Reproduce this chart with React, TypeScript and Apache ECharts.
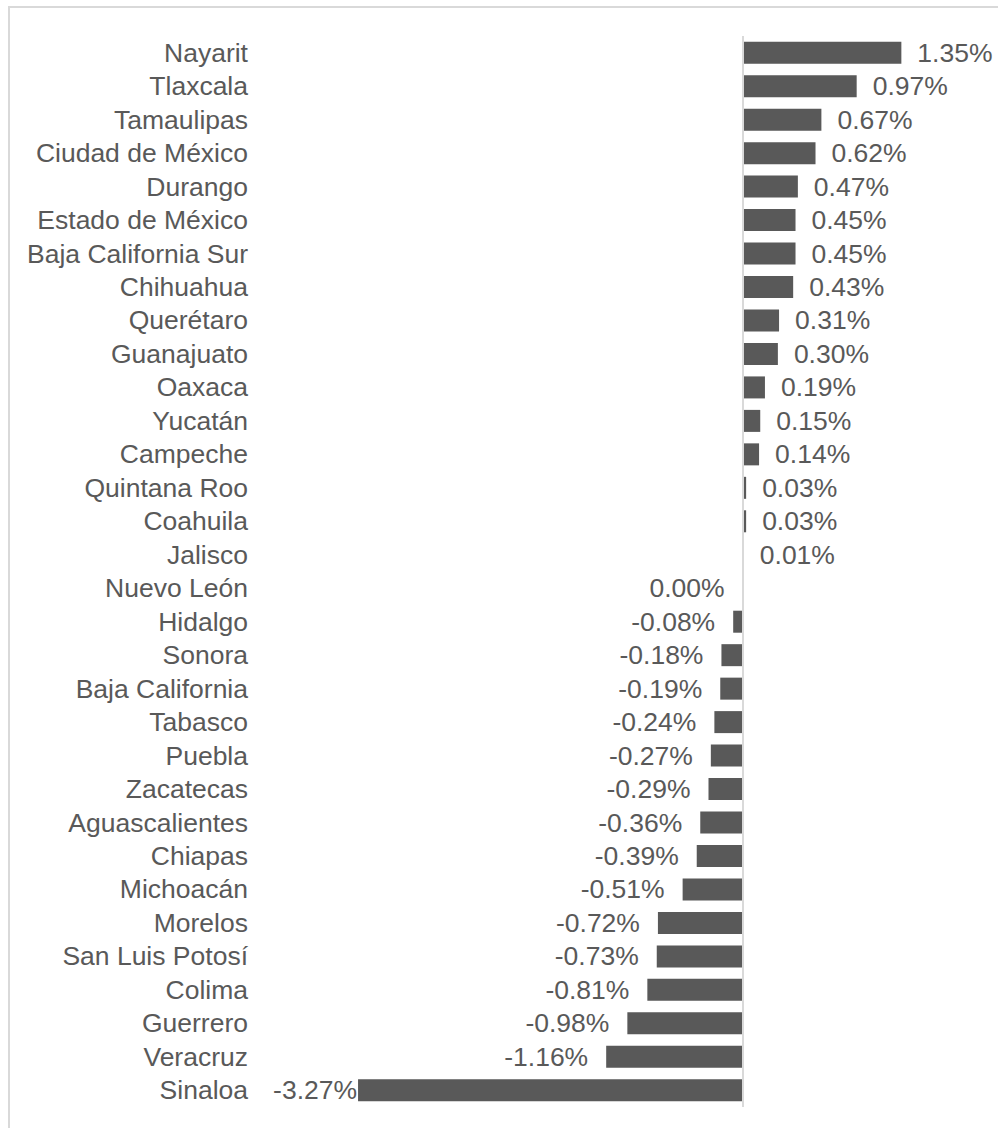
import React, { useEffect, useRef } from "react";
import * as echarts from "echarts";

const states: string[] = [
  "Nayarit", "Tlaxcala", "Tamaulipas", "Ciudad de México", "Durango",
  "Estado de México", "Baja California Sur", "Chihuahua", "Querétaro", "Guanajuato",
  "Oaxaca", "Yucatán", "Campeche", "Quintana Roo", "Coahuila", "Jalisco",
  "Nuevo León", "Hidalgo", "Sonora", "Baja California", "Tabasco", "Puebla",
  "Zacatecas", "Aguascalientes", "Chiapas", "Michoacán", "Morelos",
  "San Luis Potosí", "Colima", "Guerrero", "Veracruz", "Sinaloa",
];

const values: number[] = [
  1.35, 0.97, 0.67, 0.62, 0.47,
  0.45, 0.45, 0.43, 0.31, 0.30,
  0.19, 0.15, 0.14, 0.03, 0.03, 0.01,
  0.00, -0.08, -0.18, -0.19, -0.24, -0.27,
  -0.29, -0.36, -0.39, -0.51, -0.72,
  -0.73, -0.81, -0.98, -1.16, -3.27,
];

const FONT = "'Liberation Sans', Arial, sans-serif";
const TEXT = "#595959";

export default function App() {
  const ref = useRef<HTMLDivElement>(null);

  useEffect(() => {
    if (!ref.current) return;
    const chart = echarts.init(ref.current, undefined, { renderer: "svg" });
    const minV = Math.min(...values);
    const data = values.map((v) => ({
      value: v,
      label: {
        position: v <= 0 ? "left" : "right",
        distance: v === minV ? 1 : v <= 0 ? 18 : 16,
      },
    }));
    chart.setOption({
      animation: false,
      grid: { left: 321, top: 28, width: 588, height: 1071, containLabel: false },
      xAxis: {
        type: "value",
        min: -3.5,
        max: 1.5,
        show: false,
        splitLine: { show: false },
      },
      yAxis: {
        type: "category",
        inverse: true,
        data: states,
        axisLine: { show: false },
        axisTick: { show: false },
        splitLine: { show: false },
        axisLabel: {
          interval: 0,
          margin: 83,
          color: TEXT,
          fontSize: 26.5,
          fontFamily: FONT,
        },
      },
      series: [
        {
          type: "bar",
          data,
          barWidth: 22,
          itemStyle: { color: "#595959" },
          label: {
            show: true,
            color: TEXT,
            fontSize: 26.5,
            fontFamily: FONT,
            formatter: (p: any) => Number(p.value).toFixed(2) + "%",
          },
          markLine: {
            silent: true,
            symbol: ["none", "none"],
            label: { show: false },
            lineStyle: { color: "#d9d9d9", width: 2, type: "solid" },
            data: [{ xAxis: 0 }],
          },
        },
      ],
    });
    return () => chart.dispose();
  }, []);

  return (
    <div
      style={{
        position: "absolute",
        left: 8,
        top: 6,
        width: 990,
        height: 1122,
        borderTop: "2px solid #d9d9d9",
        borderLeft: "2px solid #d9d9d9",
        boxSizing: "border-box",
        background: "#fff",
      }}
    >
      <div ref={ref} style={{ width: 988, height: 1112 }} />
    </div>
  );
}
